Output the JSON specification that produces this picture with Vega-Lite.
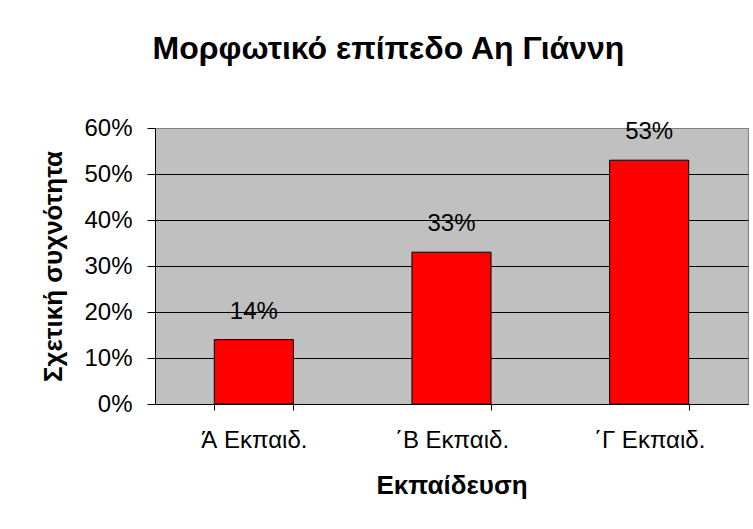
{
  "$schema": "https://vega.github.io/schema/vega-lite/v6.json",
  "autosize": {"type": "none"},
  "padding": {"left": 155, "top": 128, "right": 5, "bottom": 125},
  "width": 593,
  "height": 276,
  "background": "white",
  "title": {
    "text": "Μορφωτικό επίπεδο Αη Γιάννη",
    "font": "Liberation Sans",
    "fontSize": 32,
    "fontWeight": "bold",
    "color": "black",
    "anchor": "middle",
    "dx": -63,
    "offset": 50
  },
  "data": {
    "values": [
      {"level": "Ά Εκπαιδ.", "freq": 0.14},
      {"level": "΄Β Εκπαιδ.", "freq": 0.33},
      {"level": "΄Γ Εκπαιδ.", "freq": 0.53}
    ]
  },
  "config": {
    "view": {"fill": "#C0C0C0", "stroke": "#808080", "strokeWidth": 1}
  },
  "encoding": {
    "x": {
      "field": "level",
      "type": "nominal",
      "sort": null,
      "scale": {"paddingInner": 0.6, "paddingOuter": 0.3},
      "axis": {
        "title": "Εκπαίδευση",
        "titleFont": "Liberation Sans",
        "titleFontSize": 26,
        "titleFontWeight": "bold",
        "titleColor": "black",
        "titlePadding": 20,
        "labelFont": "Liberation Sans",
        "labelFontSize": 24,
        "labelColor": "black",
        "labelAngle": 0,
        "labelPadding": 18,
        "tickBand": "extent",
        "tickColor": "black",
        "tickSize": 6,
        "domainColor": "black",
        "grid": false
      }
    },
    "y": {
      "field": "freq",
      "type": "quantitative",
      "scale": {"domain": [0, 0.6], "nice": false},
      "axis": {
        "title": "Σχετική συχνότητα",
        "titleFont": "Liberation Sans",
        "titleFontSize": 26,
        "titleFontWeight": "bold",
        "titleColor": "black",
        "titlePadding": 17,
        "values": [0, 0.1, 0.2, 0.3, 0.4, 0.5, 0.6],
        "format": ".0%",
        "labelFont": "Liberation Sans",
        "labelFontSize": 24,
        "labelColor": "black",
        "labelPadding": 15,
        "tickColor": "black",
        "tickSize": 8,
        "domainColor": "black",
        "grid": true,
        "gridColor": {"condition": {"test": "datum.value === 0 || datum.value >= 0.6", "value": "#808080"}, "value": "black"},
        "gridOpacity": 1,
        "gridWidth": 1
      }
    }
  },
  "layer": [
    {
      "mark": {"type": "bar", "fill": "#FF0000", "stroke": "black", "strokeWidth": 1}
    },
    {
      "mark": {"type": "text", "baseline": "alphabetic", "dy": -21, "font": "Liberation Sans", "fontSize": 24, "color": "black"},
      "encoding": {"text": {"field": "freq", "type": "quantitative", "format": ".0%"}}
    }
  ]
}
